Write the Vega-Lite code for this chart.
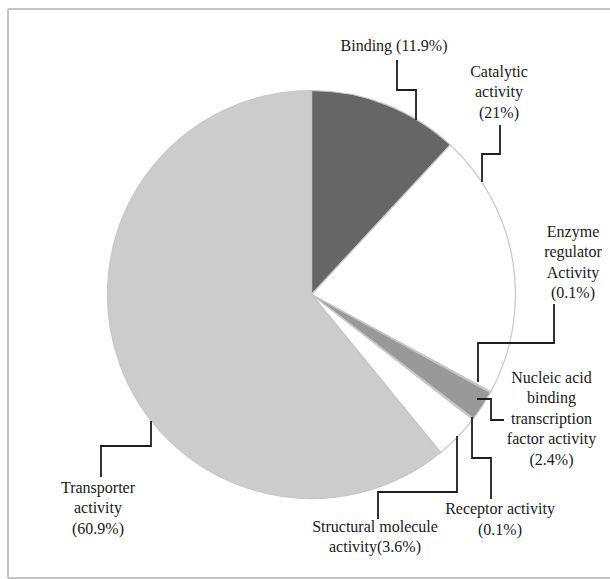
{
  "$schema": "https://vega.github.io/schema/vega-lite/v6.json",
  "width": 602,
  "height": 569,
  "autosize": "none",
  "padding": {"left": 8, "top": 9, "right": 0, "bottom": 1},
  "background": "white",
  "config": {
    "view": {"stroke": null},
    "font": "Liberation Serif, DejaVu Serif, serif"
  },
  "datasets": {
    "functions": [
      {"rank": 1, "category": "Binding", "share": 11.9},
      {"rank": 2, "category": "Catalytic activity", "share": 21.0},
      {"rank": 3, "category": "Enzyme regulator activity", "share": 0.1},
      {"rank": 4, "category": "Nucleic acid binding transcription factor activity", "share": 2.4},
      {"rank": 5, "category": "Receptor activity", "share": 0.1},
      {"rank": 6, "category": "Structural molecule activity", "share": 3.6},
      {"rank": 7, "category": "Transporter activity", "share": 60.9}
    ],
    "leaders": [
      {"category": "Binding", "step": 0, "lx": 0.4191, "ly": 1.1495},
      {"category": "Binding", "step": 1, "lx": 0.4191, "ly": 1.0025},
      {"category": "Binding", "step": 2, "lx": 0.5123, "ly": 1.0025},
      {"category": "Binding", "step": 3, "lx": 0.5123, "ly": 0.8554},
      {"category": "Catalytic activity", "step": 0, "lx": 0.924, "ly": 0.8309},
      {"category": "Catalytic activity", "step": 1, "lx": 0.924, "ly": 0.6887},
      {"category": "Catalytic activity", "step": 2, "lx": 0.8358, "ly": 0.6887},
      {"category": "Catalytic activity", "step": 3, "lx": 0.8358, "ly": 0.5515},
      {"category": "Enzyme regulator activity", "step": 0, "lx": 1.1887, "ly": -0.0466},
      {"category": "Enzyme regulator activity", "step": 1, "lx": 1.1887, "ly": -0.2377},
      {"category": "Enzyme regulator activity", "step": 2, "lx": 0.8162, "ly": -0.2377},
      {"category": "Enzyme regulator activity", "step": 3, "lx": 0.8162, "ly": -0.4289},
      {"category": "Nucleic acid binding transcription factor activity", "step": 0, "lx": 0.8113, "ly": -0.5123},
      {"category": "Nucleic acid binding transcription factor activity", "step": 1, "lx": 0.8799, "ly": -0.5123},
      {"category": "Nucleic acid binding transcription factor activity", "step": 2, "lx": 0.8799, "ly": -0.6152},
      {"category": "Nucleic acid binding transcription factor activity", "step": 3, "lx": 0.9436, "ly": -0.6152},
      {"category": "Receptor activity", "step": 0, "lx": 0.7868, "ly": -0.6005},
      {"category": "Receptor activity", "step": 1, "lx": 0.7868, "ly": -0.8015},
      {"category": "Receptor activity", "step": 2, "lx": 0.8799, "ly": -0.8015},
      {"category": "Receptor activity", "step": 3, "lx": 0.8799, "ly": -1.0025},
      {"category": "Structural molecule activity", "step": 0, "lx": 0.7132, "ly": -0.6936},
      {"category": "Structural molecule activity", "step": 1, "lx": 0.7132, "ly": -0.9681},
      {"category": "Structural molecule activity", "step": 2, "lx": 0.326, "ly": -0.9681},
      {"category": "Structural molecule activity", "step": 3, "lx": 0.326, "ly": -1.1005},
      {"category": "Transporter activity", "step": 0, "lx": -0.7868, "ly": -0.6201},
      {"category": "Transporter activity", "step": 1, "lx": -0.7868, "ly": -0.7426},
      {"category": "Transporter activity", "step": 2, "lx": -1.0319, "ly": -0.7426},
      {"category": "Transporter activity", "step": 3, "lx": -1.0319, "ly": -0.8946}
    ],
    "labels": [
      {"category": "Binding", "label": "Binding (11.9%)", "tx": 0.4044, "ty": 1.1936},
      {"category": "Catalytic activity", "label": "Catalytic\nactivity\n(21%)", "tx": 0.9191, "ty": 1.0662},
      {"category": "Enzyme regulator activity", "label": "Enzyme\nregulator\nActivity\n(0.1%)", "tx": 1.2819, "ty": 0.2819},
      {"category": "Nucleic acid binding transcription factor activity", "label": "Nucleic acid\nbinding\ntranscription\nfactor activity\n(2.4%)", "tx": 1.1765, "ty": -0.4338},
      {"category": "Receptor activity", "label": "Receptor activity\n(0.1%)", "tx": 0.924, "ty": -1.076},
      {"category": "Structural molecule activity", "label": "Structural molecule\nactivity(3.6%)", "tx": 0.3113, "ty": -1.1642},
      {"category": "Transporter activity", "label": "Transporter\nactivity\n(60.9%)", "tx": -1.0466, "ty": -0.973}
    ]
  },
  "layer": [
    {
      "data": {"name": "functions"},
      "mark": {"type": "arc", "outerRadius": 204, "stroke": "#c6c6c6", "strokeWidth": 1.2},
      "encoding": {
        "x": {"datum": 0, "type": "quantitative", "scale": {"domain": [-1.4877, 1.4632], "nice": false, "zero": false}, "axis": null},
        "y": {"datum": 0, "type": "quantitative", "scale": {"domain": [-1.3897, 1.3995], "nice": false, "zero": false}, "axis": null},
        "theta": {"field": "share", "type": "quantitative", "stack": true},
        "order": {"field": "rank", "type": "quantitative"},
        "color": {
          "field": "category",
          "type": "nominal",
          "scale": {
            "domain": ["Binding", "Catalytic activity", "Enzyme regulator activity", "Nucleic acid binding transcription factor activity", "Receptor activity", "Structural molecule activity", "Transporter activity"],
            "range": ["#666666", "#ffffff", "#7a7a7a", "#999999", "#ffffff", "#ffffff", "#cccccc"]
          },
          "legend": null
        }
      }
    },
    {
      "data": {"name": "leaders"},
      "mark": {"type": "line", "color": "#1e1e1e", "strokeWidth": 1.8, "strokeJoin": "miter", "strokeCap": "butt"},
      "encoding": {
        "x": {"field": "lx", "type": "quantitative"},
        "y": {"field": "ly", "type": "quantitative"},
        "detail": {"field": "category"},
        "order": {"field": "step", "type": "quantitative"}
      }
    },
    {
      "data": {"name": "labels"},
      "mark": {"type": "text", "font": "Liberation Serif", "lineBreak": "\n", "align": "center", "baseline": "alphabetic", "fontSize": 16, "lineHeight": 20.5, "color": "#1a1a1a"},
      "encoding": {
        "x": {"field": "tx", "type": "quantitative"},
        "y": {"field": "ty", "type": "quantitative"},
        "text": {"field": "label"}
      }
    },
    {
      "description": "Panel frame: left edge",
      "data": {"values": [{"edge": -1.4877}]},
      "mark": {"type": "rule", "color": "#c4c4c4", "strokeWidth": 2},
      "encoding": {"x": {"field": "edge", "type": "quantitative"}}
    },
    {
      "description": "Panel frame: top and bottom edges",
      "data": {"values": [{"edge": 1.3995}, {"edge": -1.3897}]},
      "mark": {"type": "rule", "color": "#c4c4c4", "strokeWidth": 2},
      "encoding": {"y": {"field": "edge", "type": "quantitative"}}
    }
  ]
}
